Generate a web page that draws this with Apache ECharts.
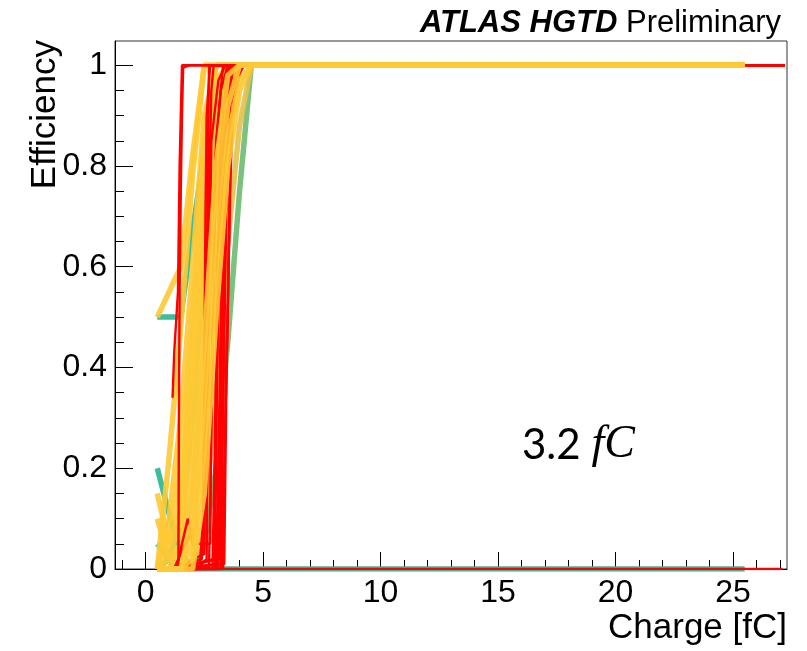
<!DOCTYPE html>
<html>
<head>
<meta charset="utf-8">
<title>Efficiency vs charge</title>
<script src="https://cdn.jsdelivr.net/npm/echarts@6.0.0/dist/echarts.min.js"></script>
<style>
	html, body { margin: 0; padding: 0; background: #fff; }
	#chart { width: 807px; height: 651px; }
</style>
</head>
<body>
<div id="chart"></div>
<script>
	// charge points of the coarse scans (fC)
	const chargeGrid = [0.5, 1.0, 1.5, 2.0, 2.5, 3.0, 3.5, 4.0, 4.5, 5.0, 25.5];

	// efficiency of each coarse channel at the chargeGrid points
	const tealCurves = [
		[0.5, 0.5, 0.5, 0.67, 0.83, 0.95, 1, 1, 1, 1, 1],
		[0.2, 0.11, 0.03, 0, 0, 0, 0, 0, 0, 0, 0],
		[0, 0.02, 0.1, 0.3, 0.62, 0.9, 1, 1, 1, 1, 1]
	];
	const greenCurves = [
		[0.05, 0.02, 0, 0, 0.05, 0.2, 0.45, 0.75, 1, 1, 1]
	];
	const yellowCurves = [
		[0.5, 0.55, 0.6, 0.82, 1, 1, 1, 1, 1, 1, 1],
		[0, 0.22, 0.48, 0.78, 1, 1, 1, 1, 1, 1, 1],
		[0.15, 0.05, 0.12, 0.45, 0.8, 1, 1, 1, 1, 1, 1],
		[0.1, 0.02, 0.05, 0.35, 0.7, 0.95, 1, 1, 1, 1, 1],
		[0, 0.1, 0.3, 0.6, 0.9, 1, 1, 1, 1, 1, 1],
		[0, 0.05, 0.2, 0.5, 0.85, 1, 1, 1, 1, 1, 1],
		[0, 0.02, 0.1, 0.4, 0.75, 0.97, 1, 1, 1, 1, 1],
		[0, 0, 0.05, 0.3, 0.65, 0.9, 1, 1, 1, 1, 1],
		[0, 0, 0.02, 0.2, 0.55, 0.85, 1, 1, 1, 1, 1],
		[0, 0, 0, 0.1, 0.45, 0.8, 0.98, 1, 1, 1, 1],
		[0, 0, 0, 0.05, 0.35, 0.7, 0.92, 1, 1, 1, 1],
		[0, 0, 0, 0.02, 0.25, 0.6, 0.85, 0.97, 1, 1, 1],
		[0, 0, 0, 0, 0.15, 0.5, 0.8, 0.95, 1, 1, 1]
	];
	const ochreCurves = [
		[0, 0, 0, 0, 0.1, 0.35, 0.65, 0.88, 1, 1, 1],
		[0, 0, 0.02, 0.15, 0.45, 0.75, 0.95, 1, 1, 1, 1]
	];

	// fine scans, [charge, efficiency]
	const redCurves = [
		[[1.15, 0], [27.1, 0]],
		[[1.2, 0], [1.4, 0.01], [1.42, 0.3], [1.45, 0.55], [1.5, 0.75], [1.55, 0.9], [1.6, 0.995], [1.9, 1], [27.2, 1]],
		[[1.15, 0.34], [1.22, 0.43], [1.38, 0.55], [1.45, 0.8], [1.55, 1], [27.2, 1]],
		[[1.2, 0], [2.3, 0], [2.45, 0.1], [2.5, 0.4], [2.55, 0.7], [2.6, 0.9], [2.75, 1], [27.2, 1]],
		[[1.2, 0], [2.0, 0.08], [2.2, 0], [2.6, 0.02], [2.65, 0.3], [2.72, 0.6], [2.8, 0.85], [3.1, 0.97], [3.4, 1], [27.2, 1]],
		[[1.2, 0], [2.7, 0], [2.78, 0.2], [2.85, 0.5], [2.95, 0.8], [3.2, 0.95], [3.5, 1], [27.2, 1]],
		[[1.3, 0], [1.8, 0.1], [2.0, 0.05], [2.75, 0.05], [2.8, 0.3], [2.9, 0.55], [3.0, 0.85], [3.3, 1], [27.2, 1]],
		[[1.2, 0], [2.85, 0], [2.95, 0.25], [3.05, 0.6], [3.2, 0.85], [3.6, 1], [27.2, 1]],
		[[1.2, 0], [2.9, 0.02], [3.0, 0.3], [3.1, 0.55], [3.25, 0.8], [3.5, 0.95], [3.8, 1], [27.2, 1]],
		[[1.2, 0], [3.0, 0], [3.1, 0.2], [3.2, 0.5], [3.3, 0.8], [3.5, 1], [27.2, 1]],
		[[1.2, 0], [3.05, 0.01], [3.15, 0.3], [3.3, 0.6], [3.4, 0.85], [3.7, 1], [27.2, 1]],
		[[1.2, 0], [3.1, 0], [3.2, 0.25], [3.35, 0.55], [3.45, 0.8], [3.6, 0.92], [3.9, 1], [27.2, 1]],
		[[1.2, 0], [3.2, 0], [3.3, 0.3], [3.4, 0.6], [3.5, 0.85], [3.7, 1], [27.2, 1]],
		[[1.2, 0], [3.25, 0], [3.35, 0.2], [3.5, 0.5], [3.6, 0.8], [3.75, 0.93], [4.1, 1], [27.2, 1]],
		[[1.2, 0], [3.3, 0], [3.4, 0.3], [3.55, 0.65], [3.65, 0.9], [4.0, 1], [27.2, 1]],
		[[1.2, 0], [2.4, 0.02], [2.5, 0.2], [2.6, 0.45], [2.7, 0.75], [2.8, 0.95], [2.9, 1], [27.2, 1]],
		[[1.2, 0], [2.95, 0], [3.05, 0.4], [3.15, 0.7], [3.3, 0.9], [3.5, 1], [27.2, 1]],
		[[1.2, 0], [3.15, 0.02], [3.25, 0.35], [3.4, 0.7], [3.6, 0.95], [4.2, 1], [27.2, 1]],
		[[1.2, 0], [2.5, 0.03], [2.55, 0.25], [2.6, 0.5], [2.65, 0.8], [2.7, 1], [27.2, 1]],
		[[1.2, 0], [3.35, 0.01], [3.45, 0.4], [3.6, 0.75], [3.7, 0.9], [3.95, 1], [27.2, 1]]
	];

	// axis ticks
	const xMajorTicks = [0, 5, 10, 15, 20, 25];
	const xMinorTicks = [-1, 1, 2, 3, 4, 6, 7, 8, 9, 11, 12, 13, 14, 16, 17, 18, 19, 21, 22, 23, 24, 26, 27];
	const yMajorTicks = [0, 0.2, 0.4, 0.6, 0.8, 1];
	const yMinorTicks = [0.05, 0.1, 0.15, 0.25, 0.3, 0.35, 0.45, 0.5, 0.55, 0.65, 0.7, 0.75, 0.85, 0.9, 0.95];

	const FONT = 'Liberation Sans, Arial, sans-serif';

	function coarse(vals, color, width, opacity) {
		return {
			type: 'line',
			data: vals.map((v, i) => [chargeGrid[i], v]),
			showSymbol: false,
			symbol: 'none',
			silent: true,
			lineStyle: { color: color, width: width, opacity: opacity }
		};
	}
	function fine(pts) {
		return {
			type: 'line',
			data: pts,
			showSymbol: false,
			symbol: 'none',
			silent: true,
			lineStyle: { color: '#ff0000', width: 2.4 }
		};
	}

	const series = [];
	tealCurves.forEach(c => series.push(coarse(c, '#3dbd9c', 5.5, 1)));
	greenCurves.forEach(c => series.push(coarse(c, '#7cc17e', 5.5, 1)));
	ochreCurves.forEach(c => series.push(coarse(c, '#e6c04c', 5.5, 0.9)));
	yellowCurves.slice(0, 9).forEach(c => series.push(coarse(c, '#fdc935', 5.5, 0.9)));
	redCurves.forEach(c => series.push(fine(c)));
	// a few yellow ones end up drawn above the red ones
	yellowCurves.slice(9).forEach(c => series.push(coarse(c, '#fdc935', 5.5, 0.9)));

	const chart = echarts.init(document.getElementById('chart'), null, { renderer: 'canvas' });
	const option = {
		animation: false,
		backgroundColor: '#fff',
		grid: {
			left: 115, right: 20, top: 41, bottom: 82,
			show: true, borderColor: '#333', borderWidth: 1, backgroundColor: 'transparent'
		},
		xAxis: [{
			type: 'value', min: -1.3, max: 27.3,
			axisLine: { onZero: false, lineStyle: { color: '#000', width: 1 } },
			axisTick: { inside: true, length: 17, customValues: xMajorTicks, lineStyle: { color: '#000' } },
			axisLabel: { customValues: xMajorTicks, color: '#000', fontSize: 32, fontFamily: FONT, margin: 8 },
			splitLine: { show: false }
		}, {
			type: 'value', min: -1.3, max: 27.3, position: 'bottom',
			axisLine: { show: false, onZero: false },
			axisTick: { inside: true, length: 9, customValues: xMinorTicks, lineStyle: { color: '#000' } },
			axisLabel: { show: false },
			splitLine: { show: false }
		}],
		yAxis: [{
			type: 'value', min: 0, max: 1.048,
			axisLine: { show: true, onZero: false, lineStyle: { color: '#000', width: 1 } },
			axisTick: { show: true, inside: true, length: 18, customValues: yMajorTicks, lineStyle: { color: '#000' } },
			axisLabel: { customValues: yMajorTicks, color: '#000', fontSize: 32, fontFamily: FONT, margin: 8 },
			splitLine: { show: false }
		}, {
			type: 'value', min: 0, max: 1.048, position: 'left',
			axisLine: { show: false, onZero: false },
			axisTick: { show: true, inside: true, length: 9, customValues: yMinorTicks, lineStyle: { color: '#000' } },
			axisLabel: { show: false },
			splitLine: { show: false }
		}],
		series: series,
		graphic: [{
			type: 'text', x: 781, y: 23, silent: true,
			style: {
				text: '{b|ATLAS HGTD} Preliminary',
				font: '31px ' + FONT, fill: '#000',
				textAlign: 'right', textVerticalAlign: 'middle',
				rich: { b: { fontWeight: 'bold', fontStyle: 'italic', fontSize: 31, fontFamily: FONT } }
			}
		}, {
			type: 'text', x: 787, y: 628, silent: true,
			style: { text: 'Charge [fC]', font: '35px ' + FONT, fill: '#000', textAlign: 'right', textVerticalAlign: 'middle' }
		}, {
			type: 'text', x: 45, y: 40, rotation: Math.PI / 2, silent: true,
			style: { text: 'Efficiency', font: '35px ' + FONT, fill: '#000', textAlign: 'right', textVerticalAlign: 'middle' }
		}, {
			type: 'text', x: 522, y: 445, silent: true,
			style: {
				text: '{n|3.2 }{u|fC}',
				textAlign: 'left', textVerticalAlign: 'middle',
				rich: {
					n: { fontFamily: 'Lato, Open Sans, sans-serif', fontSize: 42, color: '#000' },
					u: { fontFamily: 'Liberation Serif, DejaVu Serif, serif', fontStyle: 'italic', fontSize: 46, color: '#000' }
				}
			}
		}]
	};
	chart.setOption(option);
</script>
</body>
</html>
